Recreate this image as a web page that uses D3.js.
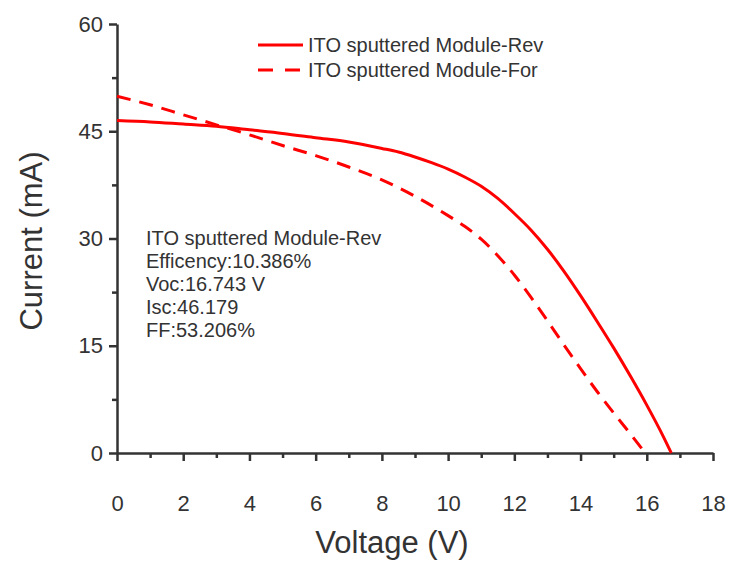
<!DOCTYPE html>
<html>
<head>
<meta charset="utf-8">
<script src="https://cdn.jsdelivr.net/npm/d3@7"></script>
<style>
  body { margin: 0; background: #fff; }
  text { font-family: "Liberation Sans", Arial, sans-serif; fill: #333; }
</style>
</head>
<body>
<div id="chart"></div>
<script>
// data
var voltageRev = [0, 1, 2, 3, 4, 5, 6, 7, 8, 8.5, 9, 9.5, 10, 10.5, 11, 11.5, 12, 12.5, 13, 13.5, 14, 14.5, 15, 15.5, 16, 16.5, 16.74];
var currentRev = [46.5, 46.3, 46.0, 45.7, 45.2, 44.7, 44.1, 43.5, 42.6, 42.1, 41.4, 40.6, 39.7, 38.6, 37.3, 35.6, 33.5, 31.2, 28.5, 25.4, 22.0, 18.4, 14.7, 10.8, 6.7, 2.3, 0];
var voltageFor = [0, 1, 2, 3, 4, 5, 6, 7, 8, 9, 10, 10.5, 11, 11.5, 12, 12.5, 13, 13.5, 14, 14.5, 15, 15.5, 15.95];
var currentFor = [49.9, 48.7, 47.3, 45.9, 44.5, 43.0, 41.6, 40.0, 38.2, 35.9, 33.2, 31.7, 29.9, 27.6, 24.9, 21.8, 18.5, 15.1, 11.8, 8.6, 5.6, 2.7, 0];
var seriesNames = ["ITO sputtered Module-Rev", "ITO sputtered Module-For"];
var xTicks = [0, 2, 4, 6, 8, 10, 12, 14, 16, 18];
var yTicks = [0, 15, 30, 45, 60];
var notes = ["ITO sputtered Module-Rev", "Efficency:10.386%", "Voc:16.743 V", "Isc:46.179", "FF:53.206%"];

var w = 733, h = 562;
var svg = d3.select("#chart").append("svg")
  .attr("width", w)
  .attr("height", h);

var x = d3.scaleLinear().domain([0, 18]).range([117, 713]);
var y = d3.scaleLinear().domain([0, 60]).range([453, 24]);

// minor ticks first
svg.append("g")
  .attr("transform", "translate(0,453)")
  .call(d3.axisBottom(x).tickValues(d3.range(1, 18, 2)).tickSize(5).tickFormat(""))
  .call(function(g) { g.select(".domain").remove(); });
svg.append("g")
  .attr("transform", "translate(117,0)")
  .call(d3.axisLeft(y).tickValues([7.5, 22.5, 37.5, 52.5]).tickSize(5).tickFormat(""))
  .call(function(g) { g.select(".domain").remove(); });

// major axes
svg.append("g")
  .attr("transform", "translate(0,453)")
  .call(d3.axisBottom(x).tickValues(xTicks).tickSize(8).tickSizeOuter(0).tickPadding(34));
svg.append("g")
  .attr("transform", "translate(117,0)")
  .call(d3.axisLeft(y).tickValues(yTicks).tickSize(8).tickSizeOuter(0).tickPadding(6));

svg.selectAll(".domain, .tick line")
  .attr("stroke", "#333")
  .attr("stroke-width", 2.5);
svg.selectAll(".tick text")
  .attr("font-size", "22px")
  .attr("font-family", "Liberation Sans, Arial, sans-serif")
  .attr("fill", "#333");

// curves
var line = d3.line()
  .x(function(d) { return x(d[0]); })
  .y(function(d) { return y(d[1]); })
  .curve(d3.curveMonotoneX);

var revData = d3.zip(voltageRev, currentRev);
var forData = d3.zip(voltageFor, currentFor);

svg.append("path")
  .datum(forData)
  .attr("d", line)
  .attr("fill", "none")
  .attr("stroke", "#ff0000")
  .attr("stroke-width", 3)
  .attr("stroke-dasharray", "14,9");
svg.append("path")
  .datum(revData)
  .attr("d", line)
  .attr("fill", "none")
  .attr("stroke", "#ff0000")
  .attr("stroke-width", 3);

// legend
var legend = svg.append("g").attr("transform", "translate(258,45)");
seriesNames.forEach(function(name, i) {
  legend.append("line")
    .attr("x1", 0).attr("x2", 45)
    .attr("y1", i * 25).attr("y2", i * 25)
    .attr("stroke", "#ff0000")
    .attr("stroke-width", 3)
    .attr("stroke-dasharray", i == 1 ? "15,12" : null);
  legend.append("text")
    .attr("x", 50)
    .attr("y", i * 25 + 7)
    .attr("font-size", "20px")
    .text(name);
});

// annotation block
svg.append("g").selectAll("text")
  .data(notes)
  .enter()
  .append("text")
  .attr("x", 146)
  .attr("y", function(d, i) { return 245 + i * 23; })
  .attr("font-size", "20px")
  .text(function(d) { return d; });

// axis titles
svg.append("text")
  .attr("x", 392)
  .attr("y", 553)
  .attr("text-anchor", "middle")
  .attr("font-size", "31px")
  .text("Voltage (V)");
svg.append("text")
  .attr("transform", "translate(42,241) rotate(-90)")
  .attr("text-anchor", "middle")
  .attr("font-size", "31px")
  .text("Current (mA)");
</script>
</body>
</html>
